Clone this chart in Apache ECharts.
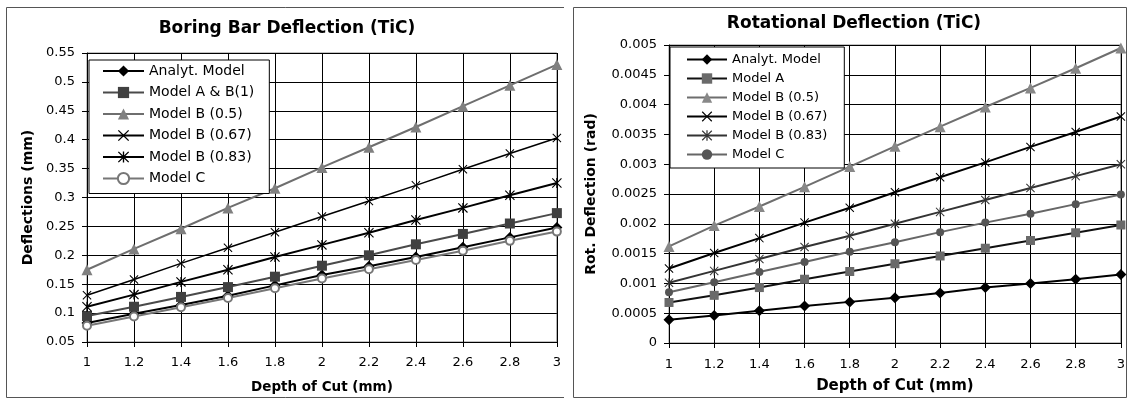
<!DOCTYPE html>
<html>
<head>
<meta charset="utf-8">
<script src="https://cdn.jsdelivr.net/npm/echarts@6/dist/echarts.min.js"></script>
<style>
  html, body { margin: 0; padding: 0; background: #fff; }
  #wrap { position: relative; width: 1128px; height: 399px; overflow: hidden; }
  #chart1 { position: absolute; left: 0; top: 0; width: 564px; height: 399px; }
  #chart2 { position: absolute; left: 564px; top: 0; width: 564px; height: 399px; }
</style>
</head>
<body>
<div id="wrap">
  <div id="chart1"></div>
  <div id="chart2"></div>
</div>
<script>
// depth of cut (mm)
const depth = [1, 1.2, 1.4, 1.6, 1.8, 2, 2.2, 2.4, 2.6, 2.8, 3];

// boring bar deflection (mm)
const defAnalyt = [0.083, 0.099, 0.114, 0.130, 0.148, 0.166, 0.181, 0.197, 0.214, 0.231, 0.248];
const defModelAB1 = [0.095, 0.111, 0.128, 0.145, 0.163, 0.182, 0.200, 0.219, 0.237, 0.255, 0.273];
const defModelB05 = [0.175, 0.211, 0.246, 0.282, 0.316, 0.352, 0.387, 0.422, 0.458, 0.494, 0.530];
const defModelB067 = [0.131, 0.158, 0.186, 0.213, 0.240, 0.267, 0.294, 0.321, 0.349, 0.376, 0.403];
const defModelB083 = [0.111, 0.132, 0.154, 0.175, 0.197, 0.218, 0.239, 0.261, 0.282, 0.304, 0.325];
const defModelC = [0.078, 0.094, 0.110, 0.126, 0.143, 0.160, 0.176, 0.192, 0.208, 0.225, 0.241];

// rotational deflection (rad)
const rotAnalyt = [0.00039, 0.00046, 0.00054, 0.00062, 0.00069, 0.00076, 0.00084, 0.00093, 0.00100, 0.00107, 0.00115];
const rotModelA = [0.00068, 0.00080, 0.00093, 0.00107, 0.00120, 0.00133, 0.00146, 0.00159, 0.00172, 0.00185, 0.00198];
const rotModelB05 = [0.00162, 0.00197, 0.00229, 0.00262, 0.00296, 0.00330, 0.00363, 0.00396, 0.00428, 0.00461, 0.00495];
const rotModelB067 = [0.00125, 0.00151, 0.00176, 0.00202, 0.00227, 0.00253, 0.00278, 0.00303, 0.00329, 0.00354, 0.00380];
const rotModelB083 = [0.00101, 0.00121, 0.00141, 0.00161, 0.00180, 0.00200, 0.00220, 0.00240, 0.00260, 0.00280, 0.00300];
const rotModelC = [0.00085, 0.00102, 0.00119, 0.00136, 0.00153, 0.00169, 0.00186, 0.00202, 0.00217, 0.00233, 0.00249];

// excel-like markers
const xMark = 'path://M0,0.8 L0.8,0 L5,4.2 L9.2,0 L10,0.8 L5.8,5 L10,9.2 L9.2,10 L5,5.8 L0.8,10 L0,9.2 L4.2,5 Z';
const starMark = xMark + ' M4.4,0 L5.6,0 L5.6,10 L4.4,10 Z';

const FONT = '"DejaVu Sans", sans-serif';

function pairs(ys) {
    return depth.map((x, i) => [x, ys[i]]);
}

function line(name, ys, lineColor, lineWidth, symbol, symbolSize, markColor, extra) {
    return Object.assign({
        name: name,
        type: 'line',
        data: pairs(ys),
        symbol: symbol,
        symbolSize: symbolSize,
        symbolKeepAspect: true,
        showAllSymbol: true,
        lineStyle: { color: lineColor, width: lineWidth },
        itemStyle: { color: markColor, borderColor: markColor, borderWidth: 0 },
        emphasis: { disabled: true },
        animation: false
    }, extra || {});
}

function axisBase() {
    return {
        type: 'value',
        axisLine: { show: true, onZero: false, lineStyle: { color: '#000', width: 1 } },
        axisTick: { show: true, inside: false, length: 5, lineStyle: { color: '#000' } },
        splitLine: { show: true, lineStyle: { color: '#000', width: 1 } },
        nameTextStyle: { fontFamily: FONT, fontWeight: 'bold', color: '#000' }
    };
}

function titleText(x, y, text) {
    return {
        type: 'text', x: x, y: y,
        style: {
            text: text, fill: '#000',
            font: 'bold 17px ' + FONT,
            textAlign: 'center', textVerticalAlign: 'middle',
            align: 'center', verticalAlign: 'middle'
        }
    };
}

function panel(x, y, w, h) {
    return {
        type: 'rect', shape: { x: x, y: y, width: w, height: h },
        style: { fill: 'none', stroke: '#555', lineWidth: 1 }, silent: true
    };
}

// ---- left chart ----
const chart1 = echarts.init(document.getElementById('chart1'));
const xAxis1 = Object.assign(axisBase(), {
    min: 1, max: 3, interval: 0.2,
    name: 'Depth of Cut (mm)', nameLocation: 'middle', nameGap: 38,
    axisLabel: { margin: 14, color: '#000', fontFamily: FONT, fontSize: 13 }
});
xAxis1.nameTextStyle.fontSize = 13.5;
const yAxis1 = Object.assign(axisBase(), {
    min: 0.05, max: 0.55, interval: 0.05,
    name: 'Deflections (mm)', nameLocation: 'middle', nameGap: 47,
    axisLabel: { margin: 12, color: '#000', fontFamily: FONT, fontSize: 13 }
});
yAxis1.nameTextStyle.fontSize = 14;

chart1.setOption({
    animation: false,
    grid: { left: 87, top: 53, width: 472, height: 289, show: true, borderColor: '#888', borderWidth: 1 },
    xAxis: xAxis1,
    yAxis: yAxis1,
    legend: {
        orient: 'vertical', left: 89, top: 60,
        padding: [4, 15, 8, 13],
        itemWidth: 41, itemHeight: 14, itemGap: 7.5,
        backgroundColor: '#fff', borderColor: '#000', borderWidth: 1,
        textStyle: { fontFamily: FONT, fontSize: 14, color: '#000' },
        data: ['Analyt. Model', 'Model A & B(1)', 'Model B (0.5)', 'Model B (0.67)', 'Model B (0.83)', 'Model C']
    },
    graphic: [
        panel(6.5, 7.5, 560, 390),
        titleText(287, 29, 'Boring Bar Deflection (TiC)')
    ],
    series: [
        line('Analyt. Model', defAnalyt, '#000', 2, 'diamond', 11, '#000'),
        line('Model A & B(1)', defModelAB1, '#4a4a4a', 2, 'rect', 10, '#404040'),
        line('Model B (0.5)', defModelB05, '#6e6e6e', 2, 'triangle', 11, '#808080'),
        line('Model B (0.67)', defModelB067, '#000', 1.5, xMark, 9, '#000'),
        line('Model B (0.83)', defModelB083, '#000', 2, starMark, 10, '#000'),
        line('Model C', defModelC, '#777', 2, 'emptyCircle', 8, '#777',
            { itemStyle: { color: '#777', borderColor: '#777', borderWidth: 1 } })
    ]
});

// ---- right chart ----
const chart2 = echarts.init(document.getElementById('chart2'));
const xAxis2 = Object.assign(axisBase(), {
    min: 1, max: 3, interval: 0.2,
    name: 'Depth of Cut (mm)', nameLocation: 'middle', nameGap: 36,
    axisLabel: { margin: 15, color: '#000', fontFamily: FONT, fontSize: 13 }
});
xAxis2.nameTextStyle.fontSize = 15;
const yAxis2 = Object.assign(axisBase(), {
    min: 0, max: 0.005, interval: 0.0005,
    name: 'Rot. Deflection (rad)', nameLocation: 'middle', nameGap: 71,
    axisLabel: { margin: 12, color: '#000', fontFamily: FONT, fontSize: 13 }
});
yAxis2.nameTextStyle.fontSize = 14;

chart2.setOption({
    animation: false,
    grid: { left: 105, top: 45, width: 454, height: 299, show: true, borderColor: '#888', borderWidth: 1 },
    xAxis: xAxis2,
    yAxis: yAxis2,
    legend: {
        orient: 'vertical', left: 106, top: 47,
        padding: [6, 17, 7, 16],
        itemWidth: 40, itemHeight: 13, itemGap: 6,
        backgroundColor: '#fff', borderColor: '#000', borderWidth: 1,
        textStyle: { fontFamily: FONT, fontSize: 13, color: '#000' },
        data: ['Analyt. Model', 'Model A', 'Model B (0.5)', 'Model B (0.67)', 'Model B (0.83)', 'Model C']
    },
    graphic: [
        panel(9.5, 7.5, 553, 390),
        titleText(290, 24, 'Rotational Deflection (TiC)')
    ],
    series: [
        line('Analyt. Model', rotAnalyt, '#000', 2, 'diamond', 11, '#000'),
        line('Model A', rotModelA, '#111', 2, 'rect', 9, '#6a6a6a'),
        line('Model B (0.5)', rotModelB05, '#6e6e6e', 2, 'triangle', 11, '#888'),
        line('Model B (0.67)', rotModelB067, '#000', 2, xMark, 9, '#000'),
        line('Model B (0.83)', rotModelB083, '#333', 2, starMark, 9, '#333'),
        line('Model C', rotModelC, '#666', 2, 'circle', 8, '#555')
    ]
});
</script>
</body>
</html>
